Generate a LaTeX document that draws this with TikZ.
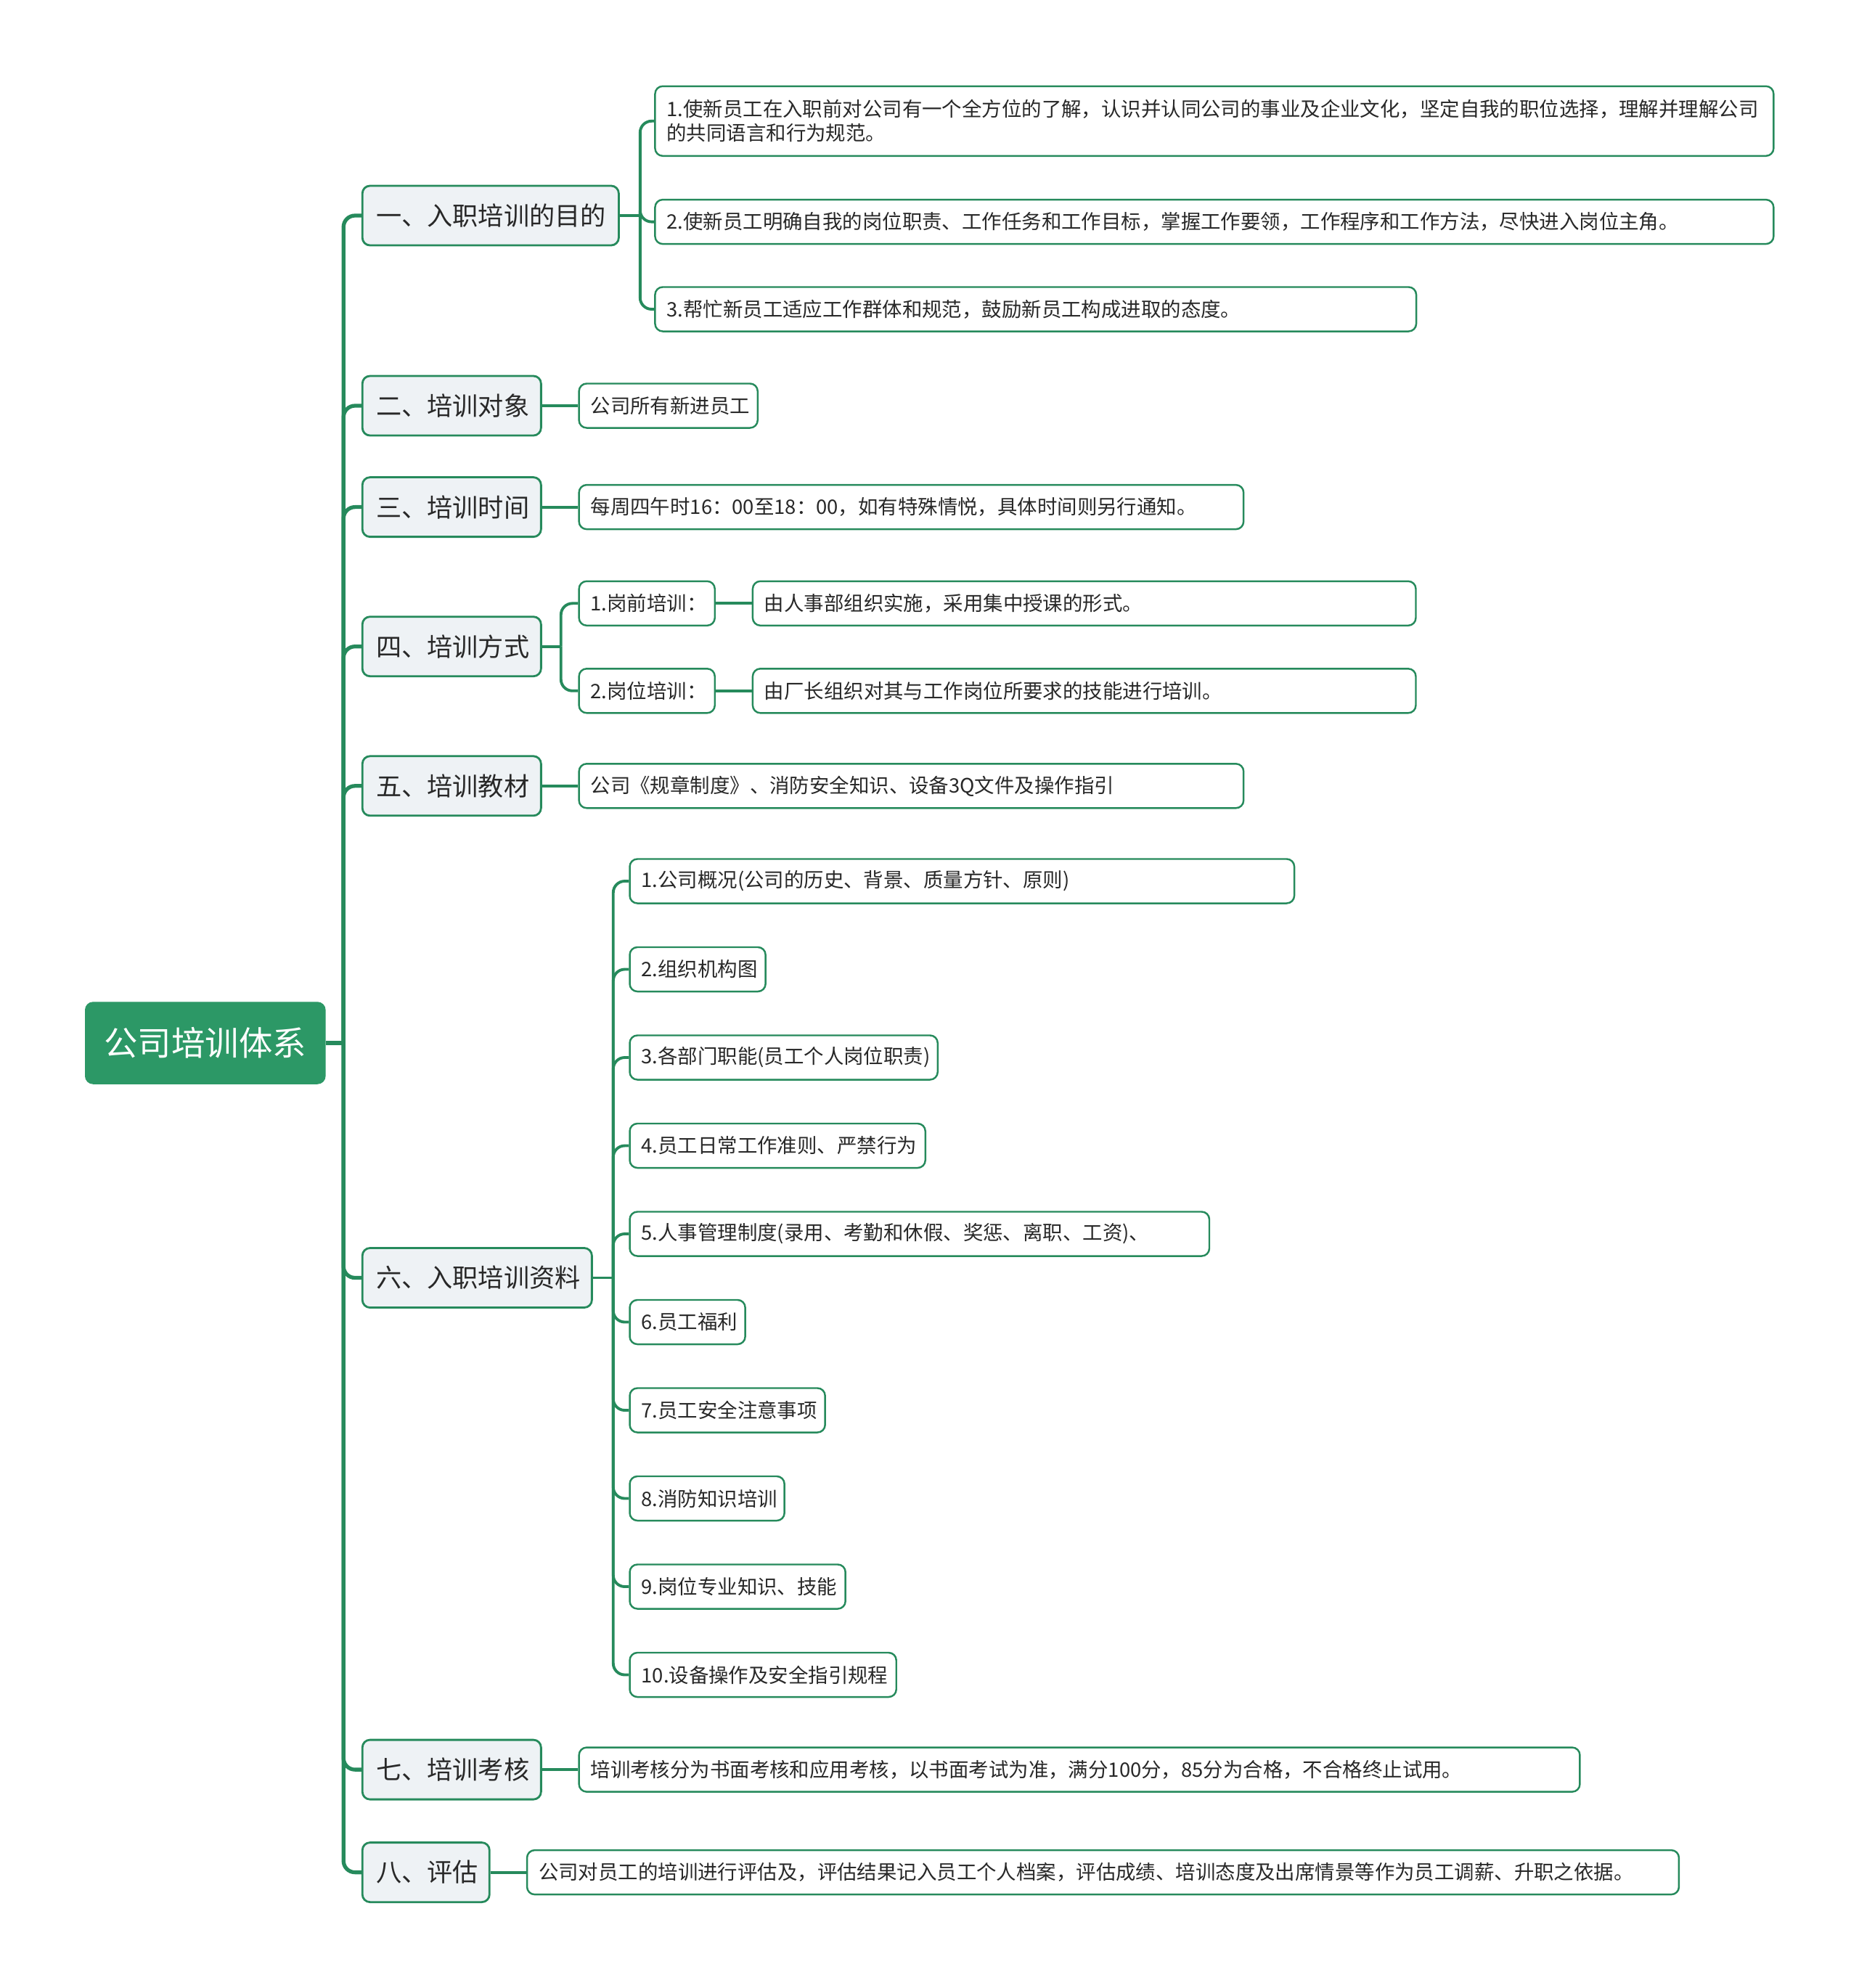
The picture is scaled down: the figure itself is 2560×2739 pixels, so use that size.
\documentclass[tikz,border=0pt]{standalone}
\usepackage{fontspec}
\setmainfont{Noto Sans CJK SC}
\usepackage{xcolor}
\usetikzlibrary{calc}

\definecolor{rootgreen}{RGB}{44,152,102}
\definecolor{linegreen}{RGB}{38,138,92}
\definecolor{topicfill}{RGB}{238,242,245}
\definecolor{inktext}{RGB}{40,40,40}

\tikzset{
  rootbox/.style={draw=rootgreen, fill=rootgreen, rounded corners=3pt, text=white,
    font=\fontsize{13.2}{15}\selectfont, minimum width=3.30cm, minimum height=1.12cm, anchor=west},
  topic/.style={draw=linegreen, line width=0.8pt, fill=topicfill, rounded corners=3pt, text=inktext,
    font=\fontsize{10}{12}\selectfont, inner xsep=0.19cm, minimum height=0.82cm,
    anchor=west, align=left, text width=#1},
  topic/.default=2.08cm,
  leaf/.style={draw=linegreen, line width=0.7pt, fill=white, rounded corners=3pt, text=inktext,
    font=\fontsize{7.8}{9.4}\selectfont, inner xsep=0.16cm, minimum height=0.61cm,
    anchor=west, align=left, text width=#1},
  leaf/.default=1.55cm,
  trunk/.style={draw=linegreen, line width=1.5pt, rounded corners=4.5pt},
  twig/.style={draw=linegreen, line width=1.1pt, rounded corners=4.5pt}
}

\begin{document}
\begin{tikzpicture}[x=0.01cm, y=-0.01cm]

\useasboundingbox (0,0) rectangle (2560,2739);

%% Parameters
\def\TX{497.8}  % left edge of the topics
\def\LX{796.4}  % left edge of single leaves

%% ---- Root ----
\node[rootbox] (root) at (117,1437) {公司培训体系};
\coordinate (spine) at ($(root.east)+(24.6,0)$);

%% ---- Topics ----
\node[topic=3.15cm] (t1) at (\TX,297)    {一、入职培训的目的};
\node[topic]        (t2) at (\TX,559)    {二、培训对象};
\node[topic]        (t3) at (\TX,698.6)  {三、培训时间};
\node[topic]        (t4) at (\TX,890.7)  {四、培训方式};
\node[topic]        (t5) at (\TX,1082.8) {五、培训教材};
\node[topic=2.78cm] (t6) at (\TX,1760.5) {六、入职培训资料};
\node[topic]        (t7) at (\TX,2438.1) {七、培训考核};
\node[topic=1.37cm] (t8) at (\TX,2579.6) {八、评估};

\draw[trunk] (root.east) -- (spine);
\foreach \t in {t1,t2,t3,t4,t5,t6,t7,t8}{
  \draw[trunk] (spine) |- (\t.west);
}

%% ---- 一 ----
\node[leaf=15.08cm, minimum height=0.96cm] (a1) at (901.2,166.8)
  {1.使新员工在入职前对公司有一个全方位的了解，认识并认同公司的事业及企业文化，坚定自我的职位选择，理解并理解公司\\的共同语言和行为规范。};
\node[leaf=15.08cm] (a2) at (901.2,305.6) {2.使新员工明确自我的岗位职责、工作任务和工作目标，掌握工作要领，工作程序和工作方法，尽快进入岗位主角。};
\node[leaf=10.16cm] (a3) at (901.2,426)   {3.帮忙新员工适应工作群体和规范，鼓励新员工构成进取的态度。};
\coordinate (ja) at ($(t1.east)+(28,0)$);
\draw[twig] (t1.east) -- (ja);
\foreach \c in {a1,a2,a3}{
  \draw[twig] (ja) |- (\c.west);
}

%% ---- 二, 三 ----
\node[leaf=2.14cm] (b1) at (\LX,559)   {公司所有新进员工};
\node[leaf=8.83cm] (c1) at (\LX,698.6) {每周四午时16：00至18：00，如有特殊情悦，具体时间则另行通知。};
\draw[twig] (t2.east) -- (b1.west);
\draw[twig] (t3.east) -- (c1.west);

%% ---- 四 ----
\node[leaf] (d1) at (\LX,831.3) {1.岗前培训：};
\node[leaf] (d2) at (\LX,951.8) {2.岗位培训：};
\node[leaf=8.81cm] (d1x) at (1035.7,831.3) {由人事部组织实施，采用集中授课的形式。};
\node[leaf=8.81cm] (d2x) at (1035.7,951.8) {由厂长组织对其与工作岗位所要求的技能进行培训。};
\coordinate (jd) at ($(t4.east)+(26,0)$);
\draw[twig] (t4.east) -- (jd);
\draw[twig] (jd) |- (d1.west);
\draw[twig] (jd) |- (d2.west);
\draw[twig] (d1.east) -- (d1x.west);
\draw[twig] (d2.east) -- (d2x.west);

%% ---- 五 ----
\node[leaf=8.83cm] (e1) at (\LX,1082.8) {公司《规章制度》、消防安全知识、设备3Q文件及操作指引};
\draw[twig] (t5.east) -- (e1.west);

%% ---- 六 ----
\coordinate (jf) at ($(t6.east)+(28,0)$);
\draw[twig] (t6.east) -- (jf);
\foreach \i/\w/\txt in {
  1/8.83cm/{1.公司概况(公司的历史、背景、质量方针、原则)},
  2/1.55cm/{2.组织机构图},
  3/3.92cm/{3.各部门职能(员工个人岗位职责)},
  4/3.75cm/{4.员工日常工作准则、严禁行为},
  5/7.66cm/{5.人事管理制度(录用、考勤和休假、奖惩、离职、工资)、},
  6/1.27cm/{6.员工福利},
  7/2.37cm/{7.员工安全注意事项},
  8/1.81cm/{8.消防知识培训},
  9/2.65cm/{9.岗位专业知识、技能},
  10/3.35cm/{10.设备操作及安全指引规程}}{
  \node[leaf=\w] (f\i) at (866.3,{1214+(\i-1)*121.5}) {\txt};
  \draw[twig] (jf) |- (f\i.west);
}

%% ---- 七, 八 ----
\node[leaf=13.46cm] (g1) at (\LX,2438.1) {培训考核分为书面考核和应用考核，以书面考试为准，满分100分，85分为合格，不合格终止试用。};
\node[leaf=15.54cm] (h1) at (724.8,2579.6) {公司对员工的培训进行评估及，评估结果记入员工个人档案，评估成绩、培训态度及出席情景等作为员工调薪、升职之依据。};
\draw[twig] (t7.east) -- (g1.west);
\draw[twig] (t8.east) -- (h1.west);

\end{tikzpicture}
\end{document}
